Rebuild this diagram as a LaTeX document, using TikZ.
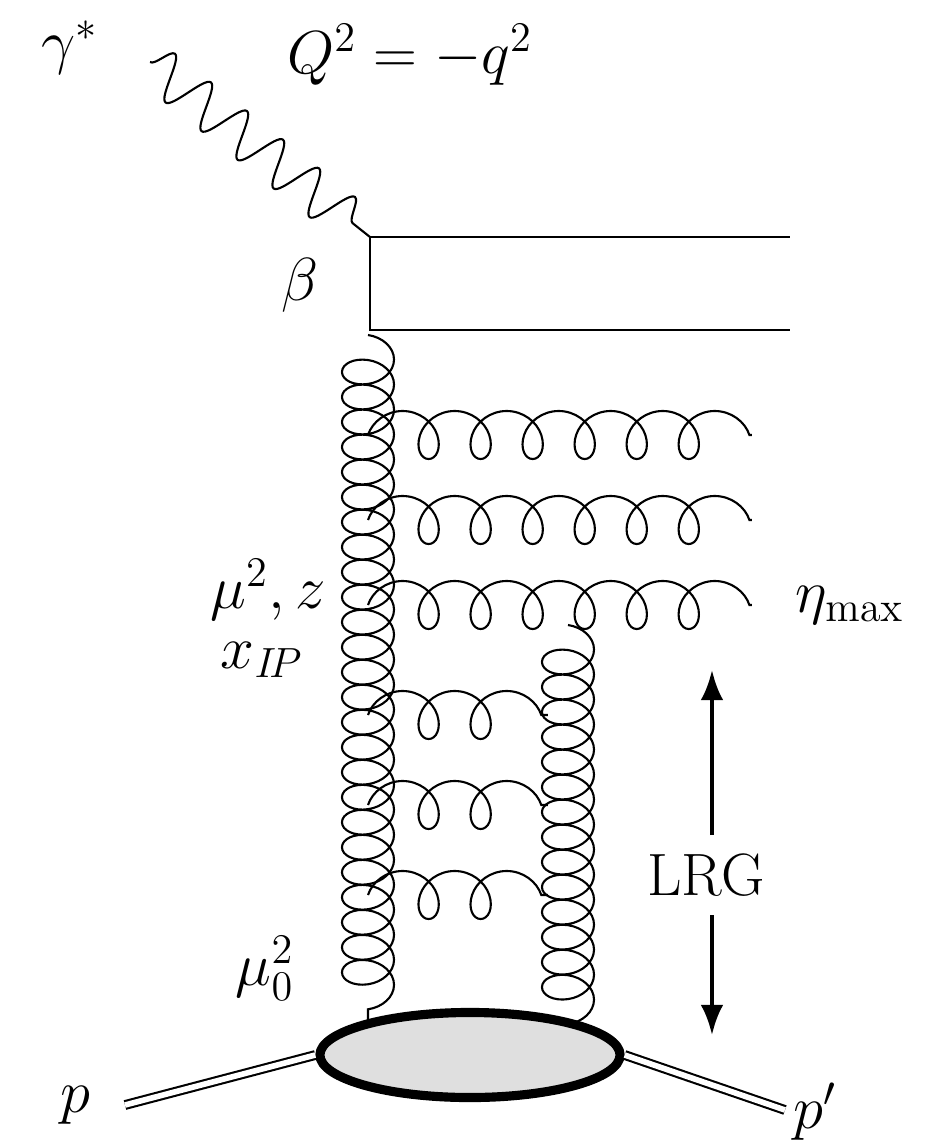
\documentclass[tikz,border=0pt]{standalone}
\usetikzlibrary{decorations.pathmorphing,arrows.meta,shapes.geometric}
\begin{document}
\begin{tikzpicture}[x=0.01cm, y=-0.01cm, line width=0.6pt,
  every node/.style={font=\fontsize{17}{20}\selectfont},
  photon/.style={decorate, decoration={snake, amplitude=2.2mm, segment length=4.6mm}},
  gluonv/.style={decorate, decoration={coil, amplitude=2.6mm, segment length=2.5mm, aspect=0.7}},
  gluonh/.style={decorate, decoration={coil, amplitude=2.4mm, segment length=5.2mm, aspect=0.9}},
  proton/.style={double, double distance=1.6pt, line width=0.6pt},
  gap/.style={-{Latex[length=3mm]}, line width=1.2pt}]
\useasboundingbox (0,0) rectangle (926,1147);
% quark box
\coordinate (v) at (370,237);
\coordinate (w) at (370,330);
\coordinate (qa) at (790,237);
\coordinate (qb) at (790,330);
\coordinate (ph) at (150,62);
\draw[photon] (ph) -- (v);
\draw (qa) -- (v) -- (w) -- (qb);
% gluon ladders
\coordinate (ta) at (368,335);
\coordinate (tb) at (368,1025);
\coordinate (sa) at (568,625);
\coordinate (sb) at (568,1025);
\draw[gluonv] (ta) -- (tb);
\draw[gluonv] (sa) -- (sb);
\foreach \y/\n in {435/a,520/b,605/c} {
  \coordinate (l\n) at (368,\y);
  \coordinate (r\n) at (752,\y);
  \draw[gluonh] (l\n) -- (r\n);
}
\foreach \y/\n in {715/d,805/e,895/f} {
  \coordinate (l\n) at (368,\y);
  \coordinate (r\n) at (548,\y);
  \draw[gluonh] (l\n) -- (r\n);
}
% proton
\coordinate (pin) at (125,1105);
\coordinate (pout) at (785,1110);
\node[draw, ellipse, line width=2.6pt, fill=gray!25, minimum width=3cm, minimum height=0.85cm, inner sep=0pt] (blob) at (470,1055) {};
\draw[proton] (pin) -- (blob.west);
\draw[proton] (blob.east) -- (pout);
% rapidity gap
\node (lrg) at (706,875) {LRG};
\coordinate (gt) at (712,670);
\coordinate (gb) at (712,1035);
\coordinate (g1) at (712,835);
\coordinate (g2) at (712,915);
\draw[gap] (g1) -- (gt);
\draw[gap] (g2) -- (gb);
% labels
\node (gam) at (70,48) {$\gamma^*$};
\node (q2) at (410,55) {$Q^2=-q^2$};
\node (beta) at (300,285) {$\beta$};
\node (muz) at (268,590) {$\mu^2,z$};
\node (xip) at (262,660) {$x_{I\!P}$};
\node (mu0) at (265,968) {$\mu_0^2$};
\node (eta) at (850,605) {$\eta_{\max}$};
\node (p) at (75,1105) {$p$};
\node (pp) at (815,1112) {$p'$};
\end{tikzpicture}
\end{document}
